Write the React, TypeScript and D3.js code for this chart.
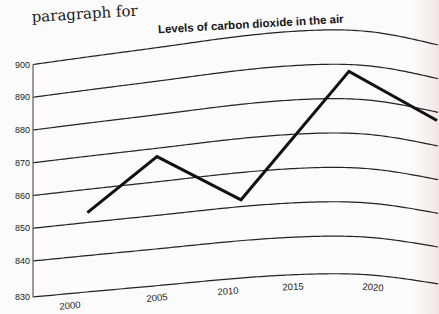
import React from 'react';
import * as d3 from 'd3';

// chart data
const years = [2001, 2005, 2011, 2018.5, 2024];
const co2 = [853, 867.5, 852, 888, 877.5];
const yTicks = [900, 890, 880, 870, 860, 850, 840, 830];
const xTicks = [2000, 2005, 2010, 2015, 2020];

const title = 'Levels of carbon dioxide in the air';
const pageText = 'paragraph for';

const W = 439;
const H = 314;
const left = 33;
const right = 439;

// the page is bent in the photo, so lines bulge upward toward the right
const bend = d3.interpolateBasis([0, 0.27, 0.52, 0.81, 0.99, 1.015, 0.55]);
const bendAmount = d3.scaleLinear().domain([830, 900]).range([23.5, 35]);

const x = d3.scaleLinear().domain(xTicks).range([70, 157, 228, 293, 373]);
const y = d3.scaleLinear().domain([830, 840, 900]).range([297, 261, 64.5]);

const warpY = (px: number, v: number) => {
  const t = Math.max(0, Math.min(1, (px - left) / (right - left)));
  return y(v) - bendAmount(v) * bend(t);
};

const App = () => {
  const line = d3.line<[number, number]>().x((d) => d[0]).y((d) => d[1]);
  const sampleX = d3.range(left, right + 1, 3);

  const gridPath = (v: number) => line(sampleX.map((px) => [px, warpY(px, v)] as [number, number]));

  const dataPts = years.map((yr, i) => {
    const px = x(yr);
    return [px, warpY(px, co2[i])] as [number, number];
  });

  const slopeAngle = (px: number) => {
    const a = warpY(px - 5, 830);
    const b = warpY(px + 5, 830);
    return (Math.atan2(b - a, 10) * 180) / Math.PI;
  };

  return (
    <svg width={W} height={H} style={{ position: 'absolute', left: 0, top: 0, background: '#fcfbfb' }}>
      <defs>
        <linearGradient id="edge" x1="0" x2="1" y1="0" y2="0">
          <stop offset="0" stopColor="#f6e9ea" stopOpacity="0" />
          <stop offset="1" stopColor="#f3e4e5" stopOpacity="1" />
        </linearGradient>
      </defs>
      <rect x={412} y={0} width={27} height={H} fill="url(#edge)" />

      {/* bit of the book text above the chart */}
      <text
        x={32}
        y={22}
        fontFamily="DejaVu Serif"
        fontSize={15}
        fill="#1a1a1a"
        transform="rotate(-3.5 32 22)"
      >
        {pageText}
      </text>

      <text
        x={251}
        y={28}
        textAnchor="middle"
        fontFamily="Liberation Sans, Arial, sans-serif"
        fontWeight="bold"
        fontSize={11.5}
        fill="#151515"
        transform="rotate(-3.3 251 28)"
      >
        {title}
      </text>

      {/* gridlines */}
      {yTicks.map((v) => (
        <path key={v} d={gridPath(v) || ''} fill="none" stroke="#222" strokeWidth={1.2} />
      ))}

      {/* y axis */}
      <line x1={left} x2={left} y1={y(900)} y2={y(830)} stroke="#4a3434" strokeWidth={1} />

      {yTicks.map((v) => (
        <text
          key={v}
          x={left - 3}
          y={y(v)}
          dy="0.35em"
          textAnchor="end"
          fontFamily="Liberation Sans, Arial, sans-serif"
          fontSize={9}
          fill="#222"
        >
          {v}
        </text>
      ))}

      {xTicks.map((yr) => {
        const px = x(yr);
        const py = warpY(px, 830) + 12;
        return (
          <text
            key={yr}
            x={px}
            y={py}
            dy="0.35em"
            textAnchor="middle"
            fontFamily="Liberation Sans, Arial, sans-serif"
            fontSize={9.5}
            fill="#222"
            transform={`rotate(${slopeAngle(px)} ${px} ${py})`}
          >
            {yr}
          </text>
        );
      })}

      {/* CO2 line */}
      <path d={line(dataPts) || ''} fill="none" stroke="#111" strokeWidth={3} strokeLinejoin="miter" />
    </svg>
  );
};

export default App;
